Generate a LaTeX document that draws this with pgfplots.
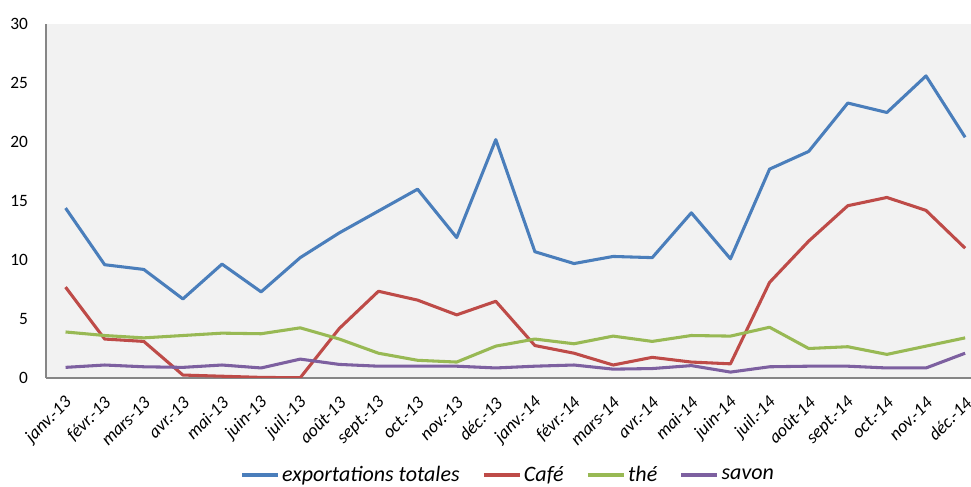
\documentclass[border=0pt]{standalone}
\usepackage{pgfplots}
\pgfplotsset{compat=1.18}
\usepackage{fontspec}
\setmainfont{Carlito}

\definecolor{cblue}{RGB}{74,126,187}
\definecolor{cred}{RGB}{190,75,72}
\definecolor{cgreen}{RGB}{152,185,84}
\definecolor{cpurple}{RGB}{125,96,160}
\definecolor{plotbg}{RGB}{242,242,242}
\definecolor{axisgray}{RGB}{134,134,134}

% Monthly values, Jan 2013 - Dec 2014 (x = 0..23)
\pgfplotstableread{
x total cafe the savon
0  14.4 7.7  3.9  0.9
1  9.6  3.3  3.6  1.1
2  9.2  3.1  3.4  0.95
3  6.7  0.25 3.6  0.9
4  9.65 0.15 3.8  1.1
5  7.3  0.05 3.75 0.85
6  10.2 0.02 4.25 1.6
7  12.3 4.2  3.3  1.15
8  14.15 7.35 2.1 1.0
9  16.0 6.6  1.5  1.0
10 11.9 5.35 1.35 1.0
11 20.2 6.5  2.7  0.85
12 10.7 2.75 3.3  1.0
13 9.7  2.1  2.9  1.1
14 10.3 1.1  3.55 0.75
15 10.2 1.75 3.1  0.8
16 14.0 1.35 3.6  1.05
17 10.1 1.2  3.55 0.5
18 17.7 8.1  4.3  0.95
19 19.2 11.6 2.5  1.0
20 23.3 14.6 2.65 1.0
21 22.5 15.3 2.0  0.85
22 25.6 14.2 2.7  0.85
23 20.4 11.0 3.4  2.1
}\data

\begin{document}
\begin{tikzpicture}
\begin{axis}[
  scale only axis,
  width=693.75pt, height=265.5pt,
  xmin=-0.5, xmax=23.15,
  ymin=0, ymax=30,
  ytick={0,5,...,30},
  xtick={0,...,23},
  xticklabels={janv.-13,févr.-13,mars-13,avr.-13,mai-13,juin-13,juil.-13,août-13,sept.-13,oct.-13,nov.-13,déc.-13,janv.-14,févr.-14,mars-14,avr.-14,mai-14,juin-14,juil.-14,août-14,sept.-14,oct.-14,nov.-14,déc.-14},
  major tick length=0pt,
  /pgf/number format/assume math mode=true,
  tick label style={font=\fontsize{13}{15}\selectfont},
  xticklabel style={rotate=45, anchor=east, font=\fontsize{13.5}{16}\selectfont\itshape, yshift=-13.5pt, xshift=-6.5pt},
  yticklabel style={xshift=-10pt},
  axis x line*=bottom, axis y line*=left,
  x axis line style={-, draw=axisgray, line width=1.4pt},
  y axis line style={-, draw=axisgray, line width=0.9pt},
  axis background/.style={fill=plotbg},
  legend style={at={(axis description cs:0.5,-0.274)}, anchor=center, draw=none, fill=none,
    legend columns=-1, font=\fontsize{16.5}{19}\selectfont\itshape,
    /tikz/every even column/.append style={column sep=15pt}},
  legend image code/.code={\draw[#1] (0pt,0pt) -- (27pt,0pt);},
  every axis plot/.append style={line width=2.3pt, line join=round, mark=none},
]
\addplot[cblue] table[x=x, y=total] {\data};
\addlegendentry{exportations totales}
\addplot[cred] table[x=x, y=cafe] {\data};
\addlegendentry{Café}
\addplot[cgreen] table[x=x, y=the] {\data};
\addlegendentry{thé}
\addplot[cpurple] table[x=x, y=savon] {\data};
\addlegendentry{savon}
\coordinate (sw) at (rel axis cs:0,0);
\coordinate (ne) at (rel axis cs:1,1);
\end{axis}
\pgfresetboundingbox
\path[use as bounding box] (sw) ++(-34.5pt,-81.75pt) coordinate (bl) (ne) ++(0pt,18pt) coordinate (tr) (bl) rectangle (tr);
\end{tikzpicture}
\end{document}
